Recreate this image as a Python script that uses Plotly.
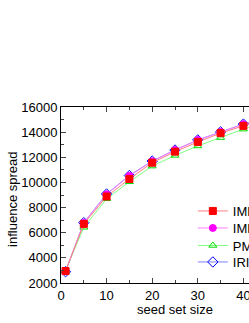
import plotly.graph_objects as go

seed_sizes = [1, 5, 10, 15, 20, 25, 30, 35, 40, 45, 50]
imrank1 = [2950, 6700, 8880, 10280, 11570, 12450, 13220, 13920, 14500, 15050, 15550]
imrank2 = [2950, 6780, 9050, 10520, 11680, 12570, 13370, 14020, 14630, 15150, 15650]
pmia = [3000, 6430, 8700, 10050, 11300, 12150, 12900, 13570, 14240, 14800, 15300]
irie = [2900, 6800, 9080, 10550, 11700, 12580, 13380, 14020, 14640, 15150, 15650]

series = [
    ("IMRank1", imrank1, "#ff0000", "#ff8080", "square", 7, "legend"),
    ("IMRank2", imrank2, "#ff00ff", "#ff80ff", "circle", 7, "legend2"),
    ("PMIA", pmia, "#00dd00", "#80ff80", "triangle-up-open", 7, "legend3"),
    ("IRIE", irie, "#0000ff", "#8080ff", "diamond-open", 8, "legend4"),
]

fig = go.Figure()
for name, vals, mc, lc, sym, sz, lg in reversed(series):
    fig.add_trace(go.Scatter(
        x=seed_sizes, y=vals, name=name, mode="lines+markers",
        line=dict(color=lc, width=1),
        marker=dict(symbol=sym, size=sz, color=mc, line=dict(color=mc, width=1)),
        legend=lg,
    ))

W = 300
PX0, PW, PT, PH = 61, 230, 107, 176


def leg(row_center):
    return dict(x=(194 - PX0) / PW, y=(PT + PH - (row_center - 13)) / PH,
                xanchor="left", yanchor="top", bgcolor="rgba(0,0,0,0)",
                font=dict(size=13), itemwidth=30)


fig.update_layout(
    width=W, height=323,
    margin=dict(l=PX0, r=W - PX0 - PW, t=PT, b=323 - PT - PH),
    paper_bgcolor="white", plot_bgcolor="white",
    font=dict(family="Liberation Sans, Arial", size=13, color="black"),
    showlegend=True,
    legend=leg(209), legend2=leg(226), legend3=leg(243.5), legend4=leg(260),
    annotations=[
        dict(text="seed set size", xref="paper", yref="paper",
             x=(176 - PX0) / PW, y=(PT + PH - 309) / PH,
             xanchor="center", yanchor="middle", showarrow=False,
             font=dict(size=13)),
        dict(text="influence spread", xref="paper", yref="paper",
             x=(12 - PX0) / PW, y=(PT + PH - 199.5) / PH, textangle=-90,
             xanchor="center", yanchor="middle", showarrow=False,
             font=dict(size=13)),
    ],
)
fig.update_xaxes(
    range=[0, 50], dtick=10, tick0=0, ticks="inside", ticklen=5, tickwidth=1,
    showline=True, linecolor="black", linewidth=1, mirror="ticks",
    showgrid=False, zeroline=False, automargin=False,
    minor=dict(dtick=5, ticks="inside", ticklen=3, tickwidth=1, showgrid=False),
    tickfont=dict(size=13),
)
fig.update_yaxes(
    range=[2000, 16000], dtick=2000, tick0=0, ticks="inside", ticklen=5, tickwidth=1,
    tickformat="d",
    showline=True, linecolor="black", linewidth=1, mirror="ticks",
    showgrid=False, zeroline=False, automargin=False,
    minor=dict(dtick=1000, ticks="inside", ticklen=3, tickwidth=1, showgrid=False),
    tickfont=dict(size=13),
)

fig.write_html("out.html", config={"displayModeBar": False},
               post_script="document.body.style.margin='0';document.body.style.overflow='hidden';")
